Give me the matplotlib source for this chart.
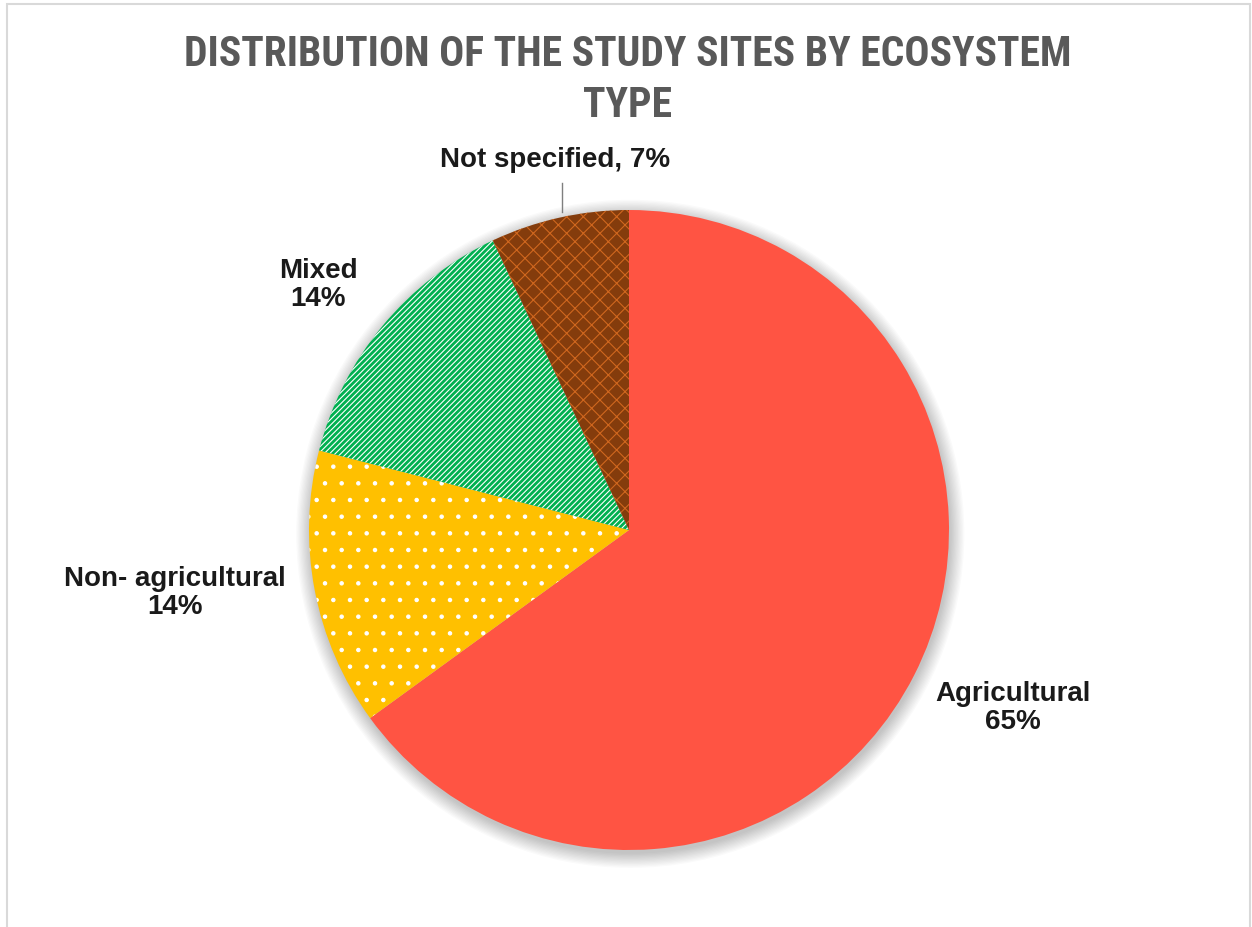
import matplotlib
matplotlib.use("Agg")
import matplotlib.pyplot as plt
from matplotlib import font_manager
from matplotlib.patches import Rectangle, Circle

categories = ["Agricultural", "Non- agricultural", "Mixed", "Not specified"]
values = [65, 14, 14, 7]
label_texts = ["Agricultural\n65%", "Non- agricultural\n14%", "Mixed\n14%", "Not specified, 7%"]
colors = ["#FF5443", "#FFC000", "#00B050", "#843C0C"]
hatch_colors = [None, "white", "white", "#D0671E"]
hatches = ["", ".", "//////", "xx"]
title = "DISTRIBUTION OF THE STUDY SITES BY ECOSYSTEM\nTYPE"

available = {f.name for f in font_manager.fontManager.ttflist}
title_font = "DejaVu Sans"
for cand in ["Roboto Condensed", "Liberation Sans Narrow", "Open Sans Condensed", "Liberation Sans"]:
    if cand in available:
        title_font = cand
        break
label_font = "Liberation Sans" if "Liberation Sans" in available else "DejaVu Sans"

plt.rcParams["hatch.linewidth"] = 0.8

W, H = 1252, 928
cx, cy, R = 629, 531, 320
fig = plt.figure(figsize=(W / 100, H / 100), dpi=100)
ax = fig.add_axes([0, 0, 1, 1])

# soft shadow
for i in range(12):
    ax.add_patch(Circle((0.004, -0.012), 1.0 + 0.004 * i, color="#000000",
                        alpha=0.018, lw=0, zorder=0))

wedges, _ = ax.pie(values, colors=colors, startangle=90, counterclock=False,
                   radius=1.0, center=(0, 0), hatch=hatches, frame=True,
                   wedgeprops=dict(linewidth=0))
ax.set_xlim(-cx / R, (W - cx) / R)
ax.set_ylim(-(H - cy) / R, cy / R)
ax.set_aspect("auto")
ax.axis("off")
hatch_lw = [0.8, 0.8, 0.8, 0.8]
for w, fc, hc, lw in zip(wedges, colors, hatch_colors, hatch_lw):
    w.set_facecolor(fc)
    w.set_edgecolor(hc if hc else fc)
    w.set_linewidth(0)
    w.set_zorder(2)
    if hasattr(w, "set_hatch_linewidth"):
        w.set_hatch_linewidth(lw)

label_pos = [(1.20, -0.553), (-1.419, -0.194), (-0.972, 0.769), (-0.231, 1.159)]
for txt, (x, y) in zip(label_texts, label_pos):
    ax.text(x, y, txt, ha="center", va="center", fontsize=20, fontweight="bold",
            family=label_font, color="#1a1a1a", linespacing=1.1, zorder=5)

# leader line for the small slice
ax.plot([-0.209, -0.209], [1.083, 0.994], color="#7f7f7f", lw=1.0, zorder=4)

fig.text(0.5 * (183 + 1072) / W, 1 - 80 / H, title, ha="center", va="center",
         fontsize=30, fontweight="bold", family=title_font, color="#595959",
         linespacing=1.3)

# chart border
fig.patches.append(Rectangle((7 / W, -0.01), (1250 - 7) / W, (H - 5) / H + 0.01,
                             transform=fig.transFigure, fill=False,
                             edgecolor="#d9d9d9", lw=1.5))

fig.savefig("out.png", dpi=100, facecolor="white")
